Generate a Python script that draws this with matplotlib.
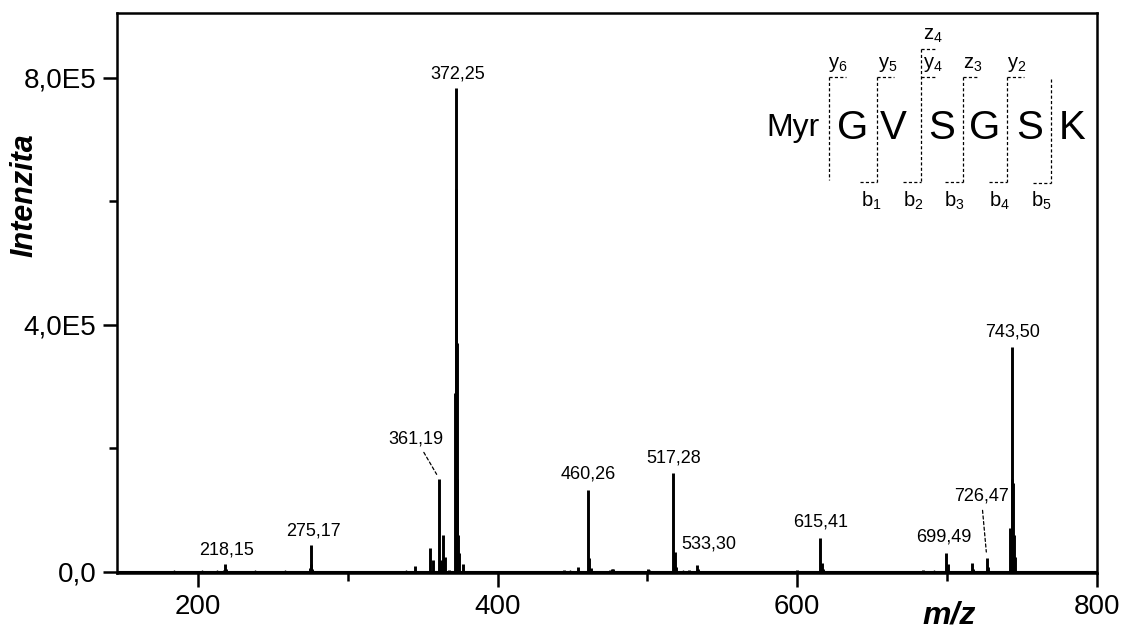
import matplotlib
matplotlib.use("Agg")
from matplotlib import pyplot as plt
from matplotlib.lines import Line2D

plt.rcParams['font.family'] = ['Liberation Sans', 'DejaVu Sans']
plt.rcParams['mathtext.fontset'] = 'custom'
plt.rcParams['mathtext.rm'] = 'Liberation Sans'

# stick spectrum: m/z and intensity
mz = [218.15, 217.6, 218.9, 275.17, 275.6, 276.3, 274.8, 327.5, 345.0,
      354.9, 356.9, 361.19, 362.3, 363.6, 365.0, 367.6,
      371.7, 372.0, 372.25, 372.45, 372.7, 373.0, 373.4, 374.3, 377.0,
      444.0, 453.7, 460.26, 461.2, 462.0, 475.0, 476.5, 477.2,
      500.5, 501.3, 517.28, 518.2, 519.0, 528.0, 533.30, 534.0,
      600.0, 601.0, 615.41, 616.3, 617.0, 684.0, 699.49, 700.3,
      716.5, 717.2, 726.47, 727.2,
      742.2, 743.0, 743.50, 744.0, 744.6, 745.5]
intensity = [13000, 3000, 4000, 44000, 12000, 5000, 6000, 2000, 10000,
             39000, 19000, 150000, 19000, 60000, 24000, 3000,
             290000, 500000, 784000, 620000, 370000, 150000, 60000, 30000, 13000,
             3000, 8000, 133000, 23000, 6000, 3000, 4000, 5000,
             4000, 3000, 160000, 32000, 8000, 3000, 11000, 4000,
             3000, 2000, 55000, 15000, 5000, 3000, 31000, 12000,
             15000, 5000, 23000, 8000,
             71000, 150000, 364000, 144000, 60000, 24000]

# baseline noise
noise_mz = [158, 163, 171, 177, 184, 190, 196, 203, 209, 213, 224, 231, 238,
            244, 251, 258, 263, 284, 291, 297, 305, 313, 320, 335, 339, 350,
            381, 389, 396, 403, 411, 419, 427, 436, 448, 468, 484, 491, 507,
            512, 524, 540, 548, 556, 563, 571, 579, 586, 593, 607, 624, 632,
            640, 648, 655, 663, 671, 677, 691, 706, 711, 721, 733, 750, 760]
noise_int = [1500, 1200, 1800, 1300, 2200, 1400, 1600, 2500, 1500, 2800, 2000,
             1700, 2400, 1500, 1300, 2100, 1800, 1400, 2000, 1300, 1700, 1500,
             1200, 1600, 2300, 1900, 1500, 1300, 1800, 1200, 1500, 1700, 1400,
             1900, 2100, 1800, 1500, 2000, 1600, 1400, 2200, 1500, 1300, 1700,
             1400, 1200, 1600, 1300, 1500, 1800, 1400, 1200, 1500, 1300, 1600,
             1400, 1200, 1800, 2400, 1600, 1900, 1500, 2000, 1300, 1200]

# labelled peaks: text, m/z, intensity, offset (pt), leader
labels = ['218,15', '275,17', '361,19', '372,25', '460,26', '517,28',
          '533,30', '615,41', '699,49', '726,47', '743,50']
label_mz = [218.15, 275.17, 361.19, 372.25, 460.26, 517.28, 533.30,
            615.41, 699.49, 726.47, 743.50]
label_int = [13000, 44000, 150000, 784000, 133000, 160000, 11000,
             55000, 31000, 23000, 364000]
label_off = [(1, 4), (2, 4), (-17, 23), (1, 4), (0, 5), (0, 5), (8, 9),
             (0, 5), (-2, 5), (-4, 38), (0, 5)]
label_leader = [False, False, True, False, False, False, False,
                False, False, True, False]

fig = plt.figure(figsize=(11.23, 6.32), dpi=100)
ax = fig.add_axes([117 / 1123, 1 - 573 / 632, 980 / 1123, 560 / 632])

ax.vlines(noise_mz, 0, noise_int, color='black', lw=1)
ax.vlines(mz, 0, intensity, color='black', lw=2.1)
ax.axhline(0, color='black', lw=1.5)

for t, x, y, off, lead in zip(labels, label_mz, label_int, label_off, label_leader):
    if lead:
        ax.annotate(t, xy=(x, y), xytext=off, textcoords='offset points',
                    ha='center', va='bottom', fontsize=13,
                    arrowprops=dict(arrowstyle='-', linestyle=(0, (2.5, 2)),
                                    lw=0.9, color='black',
                                    shrinkA=2, shrinkB=4))
    else:
        ax.annotate(t, xy=(x, y), xytext=off, textcoords='offset points',
                    ha='center', va='bottom', fontsize=13)

ax.set_xlim(146, 800)
ax.set_ylim(-2000, 9.05e5)
ax.set_xticks([200, 400, 600, 800])
ax.set_xticks([300, 500, 700], minor=True)
ax.set_yticks([0, 4e5, 8e5], ['0,0', '4,0E5', '8,0E5'])
ax.set_yticks([2e5, 6e5], minor=True)
ax.tick_params(which='major', direction='out', length=10, width=1.8,
               labelsize=20, pad=5)
ax.tick_params(which='minor', direction='out', length=6, width=1.8)
for s in ax.spines.values():
    s.set_linewidth(1.8)

fig.text(24 / 1123, 1 - 195 / 632, 'Intenzita', rotation=90, fontsize=22,
         fontweight='bold', fontstyle='italic', ha='center', va='center')
fig.text(949 / 1123, 1 - 616 / 632, 'm/z', fontsize=23,
         fontweight='bold', fontstyle='italic', ha='center', va='center')


# peptide sequence scheme, placed in pixel coordinates of the figure
def fx(px):
    return px / 1123


def fy(py):
    return 1 - py / 632


residues = ['G', 'V', 'S', 'G', 'S', 'K']
res_x = [853, 893, 942, 985, 1030, 1072]
fig.text(fx(793), fy(128), 'Myr', fontsize=23, ha='center', va='center')
for r, x in zip(residues, res_x):
    fig.text(fx(x), fy(128), r, fontsize=29, ha='center', va='center')

dash = (0, (2.5, 1.8))
cuts_x = [829, 877, 921, 963, 1007, 1051]
cuts_top = [77, 77, 49, 77, 77, 79]
cuts_bot = [180, 182, 182, 182, 182, 183]
for x, t, b in zip(cuts_x, cuts_top, cuts_bot):
    fig.add_artist(Line2D([fx(x), fx(x)], [fy(t), fy(b)], lw=0.9,
                          color='black', linestyle=dash))
# top (y / z) ions
top_seg = [(829, 846, 77), (877, 894, 77), (921, 937, 49), (921, 937, 77),
           (963, 979, 77), (1007, 1024, 77)]
for x0, x1, y in top_seg:
    fig.add_artist(Line2D([fx(x0), fx(x1)], [fy(y), fy(y)], lw=0.9,
                          color='black', linestyle=dash))
# bottom (b) ions
bot_seg = [(860, 877, 182), (903, 921, 182), (945, 963, 182),
           (989, 1007, 182), (1033, 1051, 183)]
for x0, x1, y in bot_seg:
    fig.add_artist(Line2D([fx(x0), fx(x1)], [fy(y), fy(y)], lw=0.9,
                          color='black', linestyle=dash))

ion_txt = [r'$\mathregular{y_6}$', r'$\mathregular{y_5}$',
           r'$\mathregular{z_4}$', r'$\mathregular{y_4}$',
           r'$\mathregular{z_3}$', r'$\mathregular{y_2}$',
           r'$\mathregular{b_1}$', r'$\mathregular{b_2}$',
           r'$\mathregular{b_3}$', r'$\mathregular{b_4}$',
           r'$\mathregular{b_5}$']
ion_x = [838, 888, 933, 933, 973, 1017, 871, 913, 954, 999, 1041]
ion_y = [64, 64, 35, 64, 64, 64, 201, 201, 201, 201, 201]
for t, x, y in zip(ion_txt, ion_x, ion_y):
    fig.text(fx(x), fy(y), t, fontsize=14.5, ha='center', va='center')

fig.savefig('out.png', dpi=100)
